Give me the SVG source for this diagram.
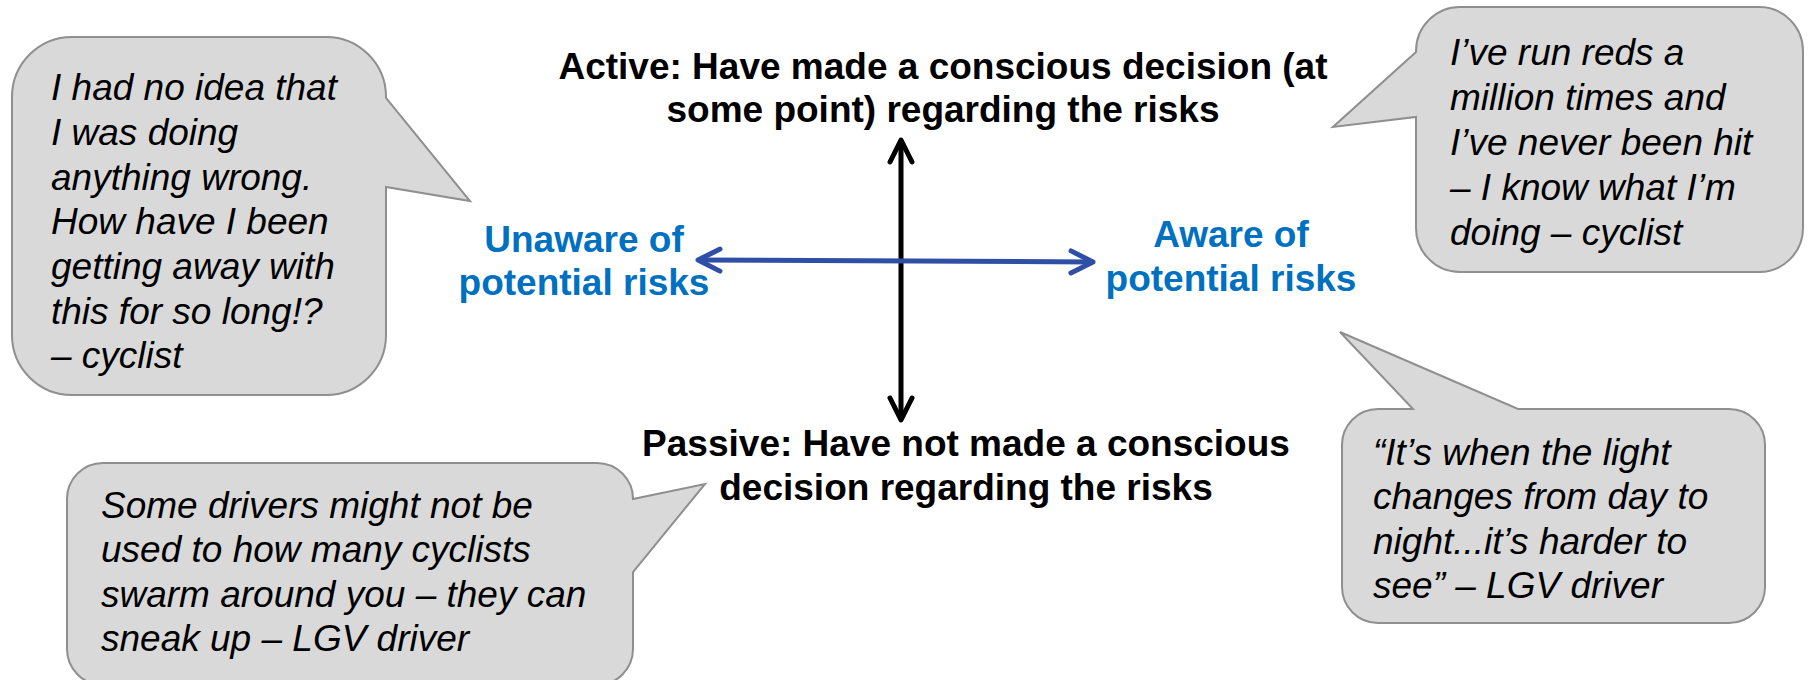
<svg xmlns="http://www.w3.org/2000/svg" width="1808" height="680" viewBox="0 0 1808 680">
<style>
.callout{fill:#D9D9D9;stroke:#8F8F8F;stroke-width:2;stroke-linejoin:miter}
.q{font-family:"Liberation Sans",Arial,sans-serif;font-style:italic;font-size:37px;fill:#000}
.h{font-family:"Liberation Sans",Arial,sans-serif;font-weight:bold;font-size:37px;fill:#000;text-anchor:middle}
.b{font-family:"Liberation Sans",Arial,sans-serif;font-weight:bold;font-size:37px;fill:#0070C0;text-anchor:middle}
.axv{stroke:#000;stroke-width:5;fill:none}
.axh{stroke:#2F4FA6;stroke-width:5;fill:none}
</style>
<defs>
<marker id="hk" viewBox="-26 -14 30 28" refX="0" refY="0" markerWidth="30" markerHeight="28" markerUnits="userSpaceOnUse" orient="auto-start-reverse">
<path d="M-21,-11 L1,0 L-21,11" fill="none" stroke="#000" stroke-width="5" stroke-linejoin="round" stroke-linecap="round"/>
</marker>
<marker id="hb" viewBox="-26 -14 30 28" refX="0" refY="0" markerWidth="30" markerHeight="28" markerUnits="userSpaceOnUse" orient="auto-start-reverse">
<path d="M-21,-11 L1,0 L-21,11" fill="none" stroke="#2F4FA6" stroke-width="5" stroke-linejoin="round" stroke-linecap="round"/>
</marker>
</defs>

<g id="connectors">
<line class="axv" x1="901" y1="141" x2="901" y2="419" marker-start="url(#hk)" marker-end="url(#hk)"/>
<line class="axh" x1="699" y1="260" x2="1092" y2="262" marker-start="url(#hb)" marker-end="url(#hb)"/>
</g>

<g id="label-active">
<text class="h" x="943" y="79">Active: Have made a conscious decision (at</text>
<text class="h" x="943" y="122">some point) regarding the risks</text>
</g>
<g id="label-passive">
<text class="h" x="966" y="456">Passive: Have not made a conscious</text>
<text class="h" x="966" y="500">decision regarding the risks</text>
</g>
<g id="label-unaware">
<text class="b" x="584" y="252">Unaware of</text>
<text class="b" x="584" y="295">potential risks</text>
</g>
<g id="label-aware">
<text class="b" x="1231" y="247">Aware of</text>
<text class="b" x="1231" y="291">potential risks</text>
</g>

<g id="callout-top-left">
<path class="callout" d="M72,37 H326 A60,60 0 0 1 386,97 L386,98 L470,201 L386,187 V335 A60,60 0 0 1 326,395 H72 A60,60 0 0 1 12,335 V97 A60,60 0 0 1 72,37 Z"/>
<text class="q" x="51" y="100">I had no idea that</text>
<text class="q" x="51" y="145">I was doing</text>
<text class="q" x="51" y="190">anything wrong.</text>
<text class="q" x="51" y="234">How have I been</text>
<text class="q" x="51" y="279">getting away with</text>
<text class="q" x="51" y="324">this for so long!?</text>
<text class="q" x="51" y="368">– cyclist</text>
</g>

<g id="callout-top-right">
<path class="callout" d="M1460,7 H1759 A44,44 0 0 1 1803,51 V228 A44,44 0 0 1 1759,272 H1460 A44,44 0 0 1 1416,228 V117 L1333,127 L1416,52 V51 A44,44 0 0 1 1460,7 Z"/>
<text class="q" x="1450" y="65">I’ve run reds a</text>
<text class="q" x="1450" y="110">million times and</text>
<text class="q" x="1450" y="155">I’ve never been hit</text>
<text class="q" x="1450" y="200">– I know what I’m</text>
<text class="q" x="1450" y="245">doing – cyclist</text>
</g>

<g id="callout-bottom-right">
<path class="callout" d="M1378,409 H1413 L1340,332 L1518,409 H1729 A36,36 0 0 1 1765,445 V587 A36,36 0 0 1 1729,623 H1378 A36,36 0 0 1 1342,587 V445 A36,36 0 0 1 1378,409 Z"/>
<text class="q" x="1373" y="465">“It’s when the light</text>
<text class="q" x="1373" y="509">changes from day to</text>
<text class="q" x="1373" y="554">night...it’s harder to</text>
<text class="q" x="1373" y="598">see” – LGV driver</text>
</g>

<g id="callout-bottom-left">
<path class="callout" d="M103,463 H597 A36,36 0 0 1 633,499 L705,484 L633,572 V649 A36,36 0 0 1 597,685 H103 A36,36 0 0 1 67,649 V499 A36,36 0 0 1 103,463 Z"/>
<text class="q" x="101" y="518">Some drivers might not be</text>
<text class="q" x="101" y="562">used to how many cyclists</text>
<text class="q" x="101" y="607">swarm around you – they can</text>
<text class="q" x="101" y="651">sneak up – LGV driver</text>
</g>
</svg>
